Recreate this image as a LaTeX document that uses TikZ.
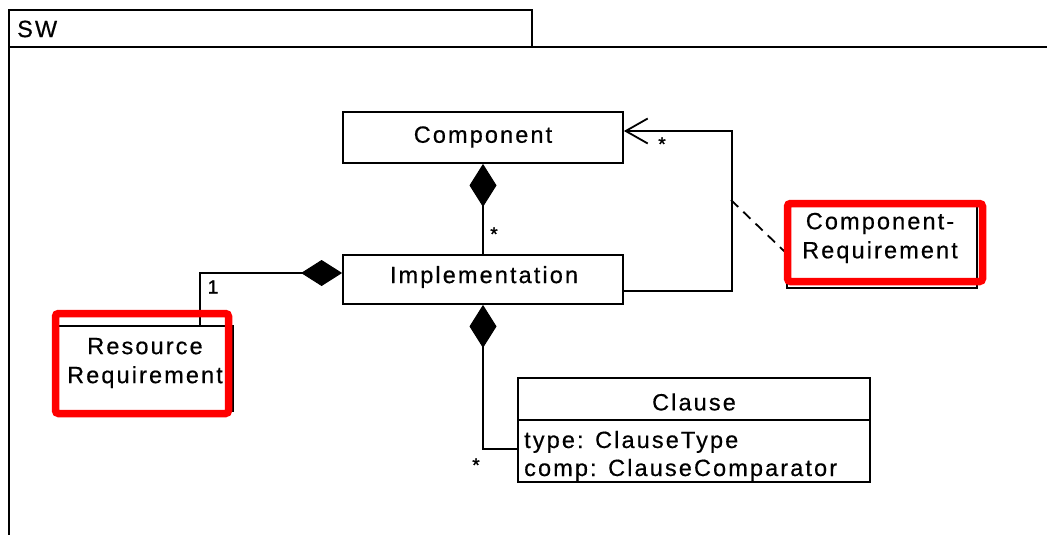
\documentclass[tikz,border=0pt]{standalone}
\usepackage{fontspec}
\newfontfamily\umlfont[LetterSpace=9,FakeBold=0.5]{Liberation Sans}
\newfontfamily\multfont[FakeBold=1.5]{Liberation Sans}
\usetikzlibrary{arrows.meta}
\tikzset{
  umlbox/.style={draw, line width=1.8pt, inner sep=0pt, align=center, font=\umlfont\fontsize{23.5}{29}\selectfont},
  link/.style={line width=1.8pt},
  vdiam/.tip={Diamond[length=43pt,width=27pt,fill=black,line width=1pt]},
  hdiam/.tip={Diamond[length=41pt,width=26pt,fill=black,line width=1pt]},
  openv/.tip={Straight Barb[length=22pt,width=25pt,line width=1.8pt]},
  mult/.style={font=\multfont\fontsize{19}{20}\selectfont, inner sep=0pt},
  redmark/.style={draw=red, line width=7.5pt, rounded corners=3pt},
  txt/.style={font=\umlfont\fontsize{23.5}{29}\selectfont, inner sep=0pt, align=center}
}
\begin{document}
\begin{tikzpicture}[x=1pt,y=-1pt]
\useasboundingbox (0,0) rectangle (1047,535);
% frame
\draw[line width=1.8pt] (9,535) -- (9,47) -- (1047,47);
\draw[line width=1.8pt] (9,47) rectangle (532,10);
\node[txt, anchor=west] (sw) at (17,29) {SW};
% classes
\node[umlbox, minimum width=280pt, minimum height=51pt] (comp) at (483,137.5) {};
\node[txt] (compt) at (483,137) {Component};
\node[umlbox, minimum width=280pt, minimum height=49pt] (impl) at (483,279.5) {};
\node[txt] (implt) at (484,277) {Implementation};
\node[umlbox, minimum width=352pt, minimum height=104pt] (clause) at (694,430) {};
\draw[line width=1.8pt] (clause.west |- 0,420) -- (clause.east |- 0,420);
\node[txt] (ctitle) at (694,402) {Clause};
\node[txt, anchor=base west] (a1) at (524,448) {type: ClauseType};
\node[txt, anchor=base west] (a2) at (524,476) {comp: ClauseComparator};
\node[umlbox, minimum width=175pt, minimum height=85pt] (res) at (145.5,368.5) {};
\node[txt] (rest) at (145,363) {Resource\\Requirement};
\node[umlbox, minimum width=190pt, minimum height=83pt] (creq) at (882,246.5) {};
\node[txt] (creqt) at (880,238) {Component-\\Requirement};
% connectors
\draw[link, {vdiam}-] (comp.south) -- (impl.north);
\draw[link, -{openv}]
  ([yshift=-11.5pt]impl.east) -- ++(108,0) |- ([yshift=6.5pt]comp.east);
\coordinate (dj) at (731,200);
\draw[link, dash pattern=on 10pt off 7pt] (dj) -- ([yshift=-6.5pt]creq.west);
\draw[link, -{hdiam}] ([xshift=54.5pt]res.north) |- ([yshift=6.5pt]impl.west);
\draw[link, {vdiam}-] (impl.south) |- ([yshift=-19pt]clause.west);
% multiplicities
\node[mult] (m1) at (494,234) {*};
\node[mult] (m2) at (662,144) {*};
\node[mult] (m3) at (476,465) {*};
\node[mult] (m4) at (213,287) {1};
% red highlights
\draw[redmark] (55.5,313.5) rectangle (228.5,413.5);
\draw[redmark] (787.5,203.5) rectangle (982.5,281.5);
\end{tikzpicture}
\end{document}
